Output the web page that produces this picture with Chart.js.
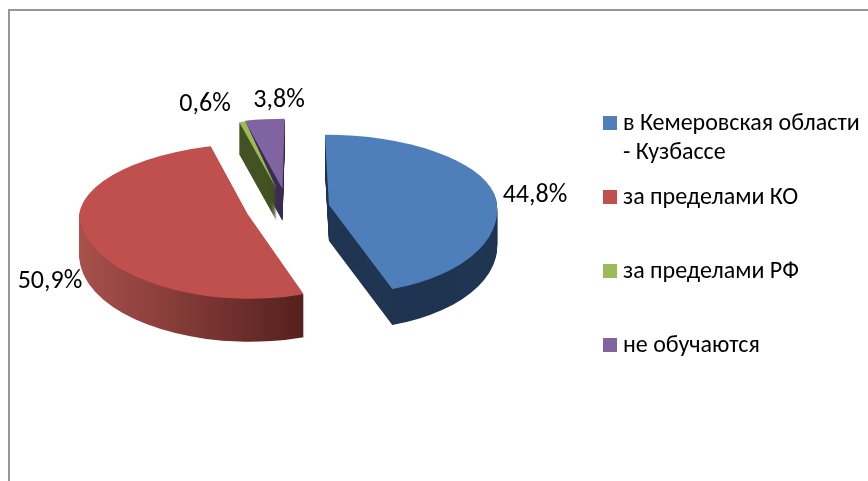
<!DOCTYPE html>
<html>
<head>
<meta charset="utf-8">
<script src="https://cdn.jsdelivr.net/npm/chart.js@4"></script>
<style>
  html, body { margin: 0; padding: 0; background: #fff; overflow: hidden; }
  #frame { position: absolute; left: 8px; top: 9px; right: 0; bottom: 0; border-left: 2px solid #979797; border-top: 2px solid #979797; }
  #grafico { position: absolute; left: 0; top: 0; }
</style>
</head>
<body>
<div id="frame"></div>
<canvas id="grafico" width="868" height="481"></canvas>
<script>
const categorias = [['в Кемеровская области', '- Кузбассе'], ['за пределами КО'], ['за пределами РФ'], ['не обучаются']];
const valores = [44.8, 50.9, 0.6, 3.8];
const colores = ['#4f7fbb', '#bf504e', '#9bbb59', '#8064a2'];
const coloresPared = ['#1f3552', null, '#435223', '#3b2c52'];

// layout of the fake 3D pie
const centroX = 287.5, centroY = 208;
const radio = 168, separacion = 42;
const escalaArriba = 0.417; // far half flatter than near half
const escalaAbajo = [0.53, 0.506, 0.506, 0.506];
const profundidad = [36, 43, 32, 32];
// slight shear per slice, stands in for the perspective of the original
const sesgoArriba = [0.057, -0.135, -0.12, -0.03];
const sesgoAbajo = [0.107, 0.024, 0, 0];
const ordenDibujo = [0, 1, 3, 2]; // green goes over the purple wall
const posEtiquetas = [[535, 195], [50, 281], [205, 104], [279, 100]];
const posLeyenda = [123, 197, 271, 345];
const fuente = '"Carlito", Lato, "Noto Sans", sans-serif';

function dibujarPorcion(ctx, arco, i, apiceX, apiceY, color) {
    const original = arco.options;
    arco.options = { ...original, backgroundColor: color };
    const corte = Math.round(apiceY);
    [[0, corte, escalaArriba, sesgoArriba[i]], [corte, 481 - corte, escalaAbajo[i], sesgoAbajo[i]]].forEach(([y, alto, escala, sesgo]) => {
        ctx.save();
        ctx.beginPath();
        ctx.rect(0, y, 868, alto);
        ctx.clip();
        ctx.translate(apiceX, apiceY);
        ctx.transform(1, 0, sesgo, 1, 0, 0);
        ctx.scale(1, escala);
        ctx.translate(-arco.x, -arco.y);
        arco.draw(ctx);
        ctx.restore();
    });
    arco.options = original;
}

const pie3d = {
    id: 'pie3d',
    beforeDatasetDraw(chart, args) {
        const ctx = chart.ctx;
        ordenDibujo.forEach(i => {
            const arco = args.meta.data[i];
            const medio = (arco.startAngle + arco.endAngle) / 2;
            const apiceX = centroX + Math.cos(medio) * separacion;
            const apiceY = centroY + Math.sin(medio) * separacion * 0.458;
            let pared = coloresPared[i];
            if (!pared) {
                // red wall gets darker towards the right, coordinates are those of the arc
                pared = ctx.createLinearGradient(arco.x - radio, 0, arco.x + radio * 0.33, 0);
                pared.addColorStop(0, '#a8504c');
                pared.addColorStop(0.5, '#7f3835');
                pared.addColorStop(1, '#55201d');
            }
            for (let d = profundidad[i]; d > 0; d--) {
                dibujarPorcion(ctx, arco, i, apiceX, apiceY + d, pared);
            }
            dibujarPorcion(ctx, arco, i, apiceX, apiceY, colores[i]);
        });
        return false;
    },
    afterDraw(chart) {
        const ctx = chart.ctx;
        ctx.save();
        ctx.fillStyle = '#000';
        ctx.textBaseline = 'middle';
        ctx.textAlign = 'center';
        ctx.font = '26px ' + fuente;
        valores.forEach((v, i) => {
            ctx.fillText(v.toFixed(1).replace('.', ',') + '%', posEtiquetas[i][0], posEtiquetas[i][1]);
        });
        ctx.textAlign = 'left';
        ctx.font = '24px ' + fuente;
        categorias.forEach((lineas, i) => {
            ctx.fillStyle = colores[i];
            ctx.fillRect(603, posLeyenda[i] - 7, 14, 14);
            ctx.fillStyle = '#000';
            lineas.forEach((linea, n) => ctx.fillText(linea, 623, posLeyenda[i] + 1 + n * 29));
        });
        ctx.restore();
    }
};

new Chart(document.getElementById('grafico'), {
    type: 'pie',
    data: {
        labels: categorias.map(l => l.join(' ')),
        datasets: [{
            data: valores,
            backgroundColor: colores,
            borderWidth: 0,
            clip: false
        }]
    },
    options: {
        responsive: false,
        animation: false,
        radius: radio,
        plugins: { legend: { display: false }, tooltip: { enabled: false } }
    },
    plugins: [pie3d]
});
</script>
</body>
</html>
